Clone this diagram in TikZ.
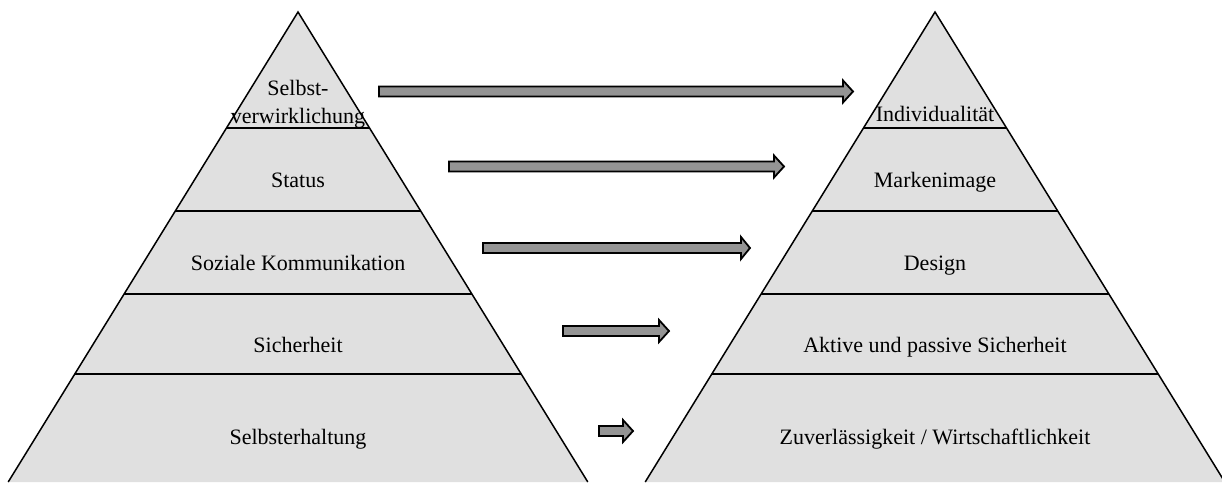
\documentclass[tikz,border=0pt]{standalone}
\usepackage{fontspec}
\setmainfont{Liberation Serif}
\usetikzlibrary{calc}
\definecolor{layerfill}{RGB}{224,224,224}
\definecolor{arrowfill}{RGB}{148,148,148}
\begin{document}
\begin{tikzpicture}[x=1pt,y=-1pt,
  edge/.style={line width=1.5pt,black},
  tierText/.style={font=\fontsize{22}{28}\selectfont, anchor=base, align=center, inner sep=0pt},
  blockarrow/.style={draw=black, line width=1.8pt, fill=arrowfill, line join=miter},
]
\useasboundingbox (0,0) rectangle (1222,482);
% two pyramids, each split into five tiers
\foreach \nm/\ax in {L/298, R/935}{
  \coordinate (\nm top) at (\ax,12);
  \coordinate (\nm bl) at (\ax-289.8,482);
  \coordinate (\nm br) at (\ax+289.8,482);
  \fill[layerfill] (\nm top) -- (\nm bl) -- (\nm br) -- cycle;
  \foreach \t in {0.2468,0.4234,0.6,0.7702}
    \draw[edge] ($(\nm top)!\t!(\nm bl)$) -- ($(\nm top)!\t!(\nm br)$);
  \draw[edge, line join=miter] (\nm bl) -- (\nm top) -- (\nm br);
}
% block arrows between the tiers
\foreach \xa/\xb/\xt/\y in {379/843/853/91.5, 449/774/784/166.5, 483/741/750/248, 563/659/669/331, 599/623/633/431}
  \draw[blockarrow] (\xa,\y-5) -- (\xb,\y-5) -- (\xb,\y-11) -- (\xt,\y)
    -- (\xb,\y+11) -- (\xb,\y+5) -- (\xa,\y+5) -- cycle;
% tier labels, left pyramid
\node[tierText, anchor=center] (l1) at (298,104) {Selbst-\\verwirklichung};
\node[tierText] (l2) at (298,187) {Status};
\node[tierText] (l3) at (298,270) {Soziale Kommunikation};
\node[tierText] (l4) at (298,352) {Sicherheit};
\node[tierText] (l5) at (298,444) {Selbsterhaltung};
% tier labels, right pyramid
\node[tierText] (r1) at (935,121) {Individualität};
\node[tierText] (r2) at (935,187) {Markenimage};
\node[tierText] (r3) at (935,270) {Design};
\node[tierText] (r4) at (935,352) {Aktive und passive Sicherheit};
\node[tierText] (r5) at (935,444) {Zuverlässigkeit / Wirtschaftlichkeit};
\end{tikzpicture}
\end{document}
